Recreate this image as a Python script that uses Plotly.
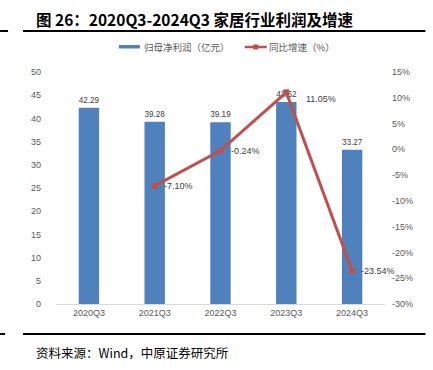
import plotly.graph_objects as go

categories = ["2020Q3", "2021Q3", "2022Q3", "2023Q3", "2024Q3"]
profit = [42.29, 39.28, 39.19, 43.52, 33.27]
growth = [None, -7.10, -0.24, 11.05, -23.54]
profit_labels = ["42.29", "39.28", "39.19", "43.52", "33.27"]
growth_labels = ["", "-7.10%", "-0.24%", "11.05%", "-23.54%"]
left_ticks = [0, 5, 10, 15, 20, 25, 30, 35, 40, 45, 50]
right_ticks = [-30, -25, -20, -15, -10, -5, 0, 5, 10, 15]
right_tick_text = ["-30%", "-25%", "-20%", "-15%", "-10%", "-5%", "0%", "5%", "10%", "15%"]
legend_names = ["归母净利润（亿元）", "同比增速（%）"]

W, H = 433, 370
L, R, T, B = 56, 385.5, 72, 304

def px(x):
    return (x - L) / (R - L)

def py(y):
    return (B - y) / (B - T)

FONT = "Liberation Sans, Noto Sans CJK SC, sans-serif"
CJK = "Noto Sans CJK SC, sans-serif"
BLUE = "#4F81BD"
RED = "#C0504D"

fig = go.Figure()
fig.add_trace(go.Bar(
    x=categories, y=profit, name=legend_names[0],
    marker=dict(color=BLUE, line=dict(width=0)),
    width=0.31,
    text=profit_labels, textposition="outside", cliponaxis=False,
    textfont=dict(size=9, color="#404040", family=FONT),
))
fig.add_trace(go.Scatter(
    x=categories, y=growth, name=legend_names[1], yaxis="y2",
    mode="lines+markers",
    line=dict(color=RED, width=3),
    marker=dict(symbol="square", size=6, color=RED),
    cliponaxis=False,
))

# growth labels placed next to their points (label offsets in pixels)
label_shift = {1: (7, 0), 2: (8, 0), 3: (18, -7), 4: (7, 0)}
annotations = []
for i, (c, g, t) in enumerate(zip(categories, growth, growth_labels)):
    if g is None:
        continue
    dx, dy = label_shift[i]
    annotations.append(dict(
        x=c, y=g, xref="x", yref="y2", text=t, showarrow=False,
        xanchor="left", yanchor="middle", xshift=dx, yshift=dy,
        font=dict(size=9, color="#404040", family=FONT),
    ))

annotations += [
    dict(text="<b>图 26：2020Q3-2024Q3 家居行业利润及增速</b>", xref="paper", yref="paper",
         x=px(34), y=py(19), xanchor="left", yanchor="middle", showarrow=False,
         font=dict(size=15.5, color="black", family=CJK)),
    dict(text="资料来源：Wind，中原证券研究所", xref="paper", yref="paper",
         x=px(34), y=py(352), xanchor="left", yanchor="middle", showarrow=False,
         font=dict(size=12.5, color="black", family=CJK)),
    dict(text=legend_names[0], xref="paper", yref="paper",
         x=px(142), y=py(47), xanchor="left", yanchor="middle", showarrow=False,
         font=dict(size=9.5, color="#595959", family=CJK)),
    dict(text=legend_names[1], xref="paper", yref="paper",
         x=px(267), y=py(47), xanchor="left", yanchor="middle", showarrow=False,
         font=dict(size=9.5, color="#595959", family=CJK)),
]

fig.update_layout(
    width=W, height=H,
    margin=dict(l=L, r=W - R, t=T, b=H - B, pad=0),
    paper_bgcolor="white", plot_bgcolor="white",
    showlegend=False,
    xaxis=dict(range=[-0.5, len(categories) - 0.5], autorange=False,
               showgrid=False, showline=True, linecolor="#D9D9D9", linewidth=1,
               ticks="", tickfont=dict(size=9, color="#595959", family=FONT)),
    yaxis=dict(range=[0, 50], tickvals=left_ticks, showgrid=False, zeroline=False,
               showline=False, ticks="", ticklabelstandoff=14,
               tickfont=dict(size=9, color="#595959", family=FONT)),
    yaxis2=dict(range=[-30, 15], tickvals=right_ticks, ticktext=right_tick_text,
                overlaying="y", side="right", showgrid=False, zeroline=False,
                showline=False, ticks="", ticklabelstandoff=6,
                tickfont=dict(size=9, color="#595959", family=FONT)),
    shapes=[
        dict(type="line", xref="paper", yref="paper", x0=px(23), x1=px(426),
             y0=py(31), y1=py(31), line=dict(color="black", width=2)),
        dict(type="line", xref="paper", yref="paper", x0=px(0), x1=px(8),
             y0=py(31), y1=py(31), line=dict(color="black", width=2)),
        dict(type="line", xref="paper", yref="paper", x0=px(23), x1=px(426),
             y0=py(334), y1=py(334), line=dict(color="black", width=2)),
        dict(type="line", xref="paper", yref="paper", x0=px(0), x1=px(5),
             y0=py(334), y1=py(334), line=dict(color="black", width=2)),
        # legend symbols
        dict(type="rect", xref="paper", yref="paper", x0=px(119), x1=px(140),
             y0=py(45), y1=py(48.5), fillcolor=BLUE, line=dict(width=0)),
        dict(type="line", xref="paper", yref="paper", x0=px(245), x1=px(267),
             y0=py(47), y1=py(47), line=dict(color=RED, width=2.5)),
        dict(type="rect", xref="paper", yref="paper", x0=px(253.5), x1=px(258.5),
             y0=py(44.5), y1=py(49.5), fillcolor=RED, line=dict(width=0)),
    ],
    annotations=annotations,
)

fig.write_html("out.html", config={"displayModeBar": False},
               post_script="document.body.style.margin='0';")
